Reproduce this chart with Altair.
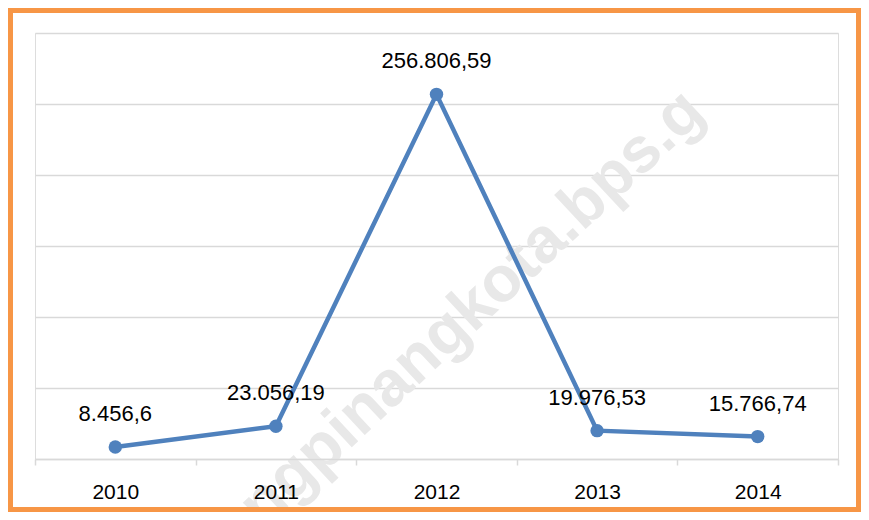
import altair as alt
import pandas as pd

years = ["2010", "2011", "2012", "2013", "2014"]
values = [8456.6, 23056.19, 256806.59, 19976.53, 15766.74]
labels = ["8.456,6", "23.056,19", "256.806,59", "19.976,53", "15.766,74"]
y_ticks = [0, 50000, 100000, 150000, 200000, 250000, 300000]
watermark_text = ["ngpinangkota.bps.g"]

df = pd.DataFrame({"year": years, "value": values, "label": labels})

FONT = "Liberation Sans"
BLUE = "#4F81BD"
ORANGE = "#F79646"

x_enc = alt.X("year:O", scale=alt.Scale(type="band", paddingInner=0, paddingOuter=0),
              axis=alt.Axis(title=None, labelAngle=0, labelFontSize=21, labelFont=FONT,
                            labelColor="#000000", labelPadding=16, tickBand="extent",
                            tickSize=6, tickColor="#d9d9d9", tickWidth=1.5,
                            domainColor="#d9d9d9", domainWidth=1.5, grid=False, zindex=1))
y_enc = alt.Y("value:Q", scale=alt.Scale(domain=[0, 300000], nice=False),
              axis=alt.Axis(title=None, labels=False, ticks=False, domain=False,
                            values=y_ticks, grid=True, gridColor="#d9d9d9", gridWidth=1.5))

base = alt.Chart(df)

watermark = alt.Chart(pd.DataFrame({"t": watermark_text})).mark_text(
    font=FONT, fontSize=64, fontWeight="bold", color="#e8e8e8", angle=317,
    align="center", baseline="middle"
).encode(text="t:N", x=alt.value(437), y=alt.value(276))

line = base.mark_line(color=BLUE, strokeWidth=4.5).encode(x=x_enc, y=y_enc)
points = base.mark_point(filled=True, color=BLUE, size=180, opacity=1).encode(x="year:O", y="value:Q")
text = base.mark_text(font=FONT, fontSize=22, color="#000000", baseline="middle", dy=-33).encode(
    x="year:O", y="value:Q", text="label:N")

border = alt.Chart(pd.DataFrame({"a": [0]})).mark_rect(
    filled=False, stroke=ORANGE, strokeWidth=5
).encode(x=alt.value(-24.5), x2=alt.value(823.5), y=alt.value(-22.5), y2=alt.value(476.5))

chart = alt.layer(watermark, line, points, text, border).properties(
    width=803, height=426,
    autosize=alt.AutoSizeParams(type="none"),
    padding={"left": 27, "top": 25, "right": 23, "bottom": 53},
).configure_view(stroke=None).configure(background="#ffffff")

chart.save("out.html", embed_options={"renderer": "svg", "actions": False})
